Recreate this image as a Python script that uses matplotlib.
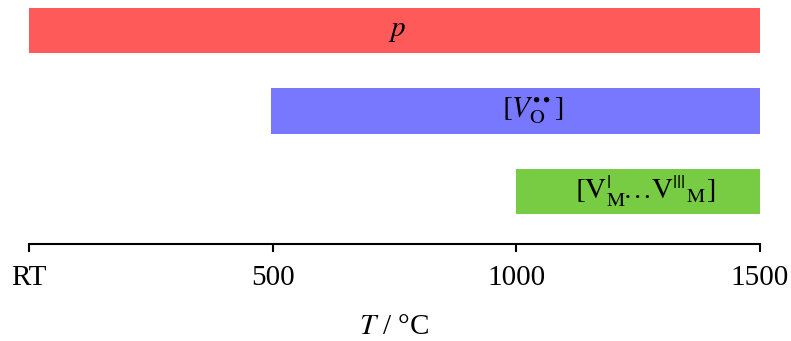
import matplotlib
matplotlib.use('Agg')
import matplotlib.pyplot as plt

# temperatury (RT = 0)
starts = [0, 497, 1000]
ends = [1500, 1500, 1500]
labels = [r'$p$', r'$[V_{\mathrm{O}}^{\bullet\bullet}]$',
          r'$[\mathrm{V}_{\mathrm{M}}^{|}\!\ldots\mathrm{V}^{|||}{}_{\mathrm{M}}]$']
colors = ['#ff5a5a', '#7878ff', '#77cc44']
label_x = [755, 1034, 1264]
tick_pos = [0, 500, 1000, 1500]
tick_labels = ['RT', '500', '1000', '1500']

plt.rcParams['font.family'] = ['Liberation Serif', 'DejaVu Serif']
plt.rcParams['mathtext.fontset'] = 'stix'

fig = plt.figure(figsize=(7.91, 3.41), dpi=100)
ax = fig.add_axes([29 / 791, 1 - 244 / 341, (760 - 29) / 791, 244 / 341])

ypos = [2, 1, 0]
for y, s, e, c, lab, lx in zip(ypos, starts, ends, colors, labels, label_x):
    ax.barh(y, e - s, left=s, height=0.56, color=c, edgecolor='none')
    ax.text(lx, y, lab, ha='center', va='center', fontsize=21)

ax.set_xlim(0, 1500)
ax.set_ylim(-0.652, 2.379)
ax.set_xticks(tick_pos)
ax.set_xticklabels(tick_labels, fontsize=21)
ax.set_yticks([])
for side in ['top', 'left', 'right']:
    ax.spines[side].set_visible(False)
ax.spines['bottom'].set_linewidth(1.5)
ax.tick_params(axis='x', direction='out', length=6, width=1.5, pad=9)
ax.set_xlabel(r'$T$ / °C', fontsize=21, labelpad=17)

fig.savefig('out.png', dpi=100)
